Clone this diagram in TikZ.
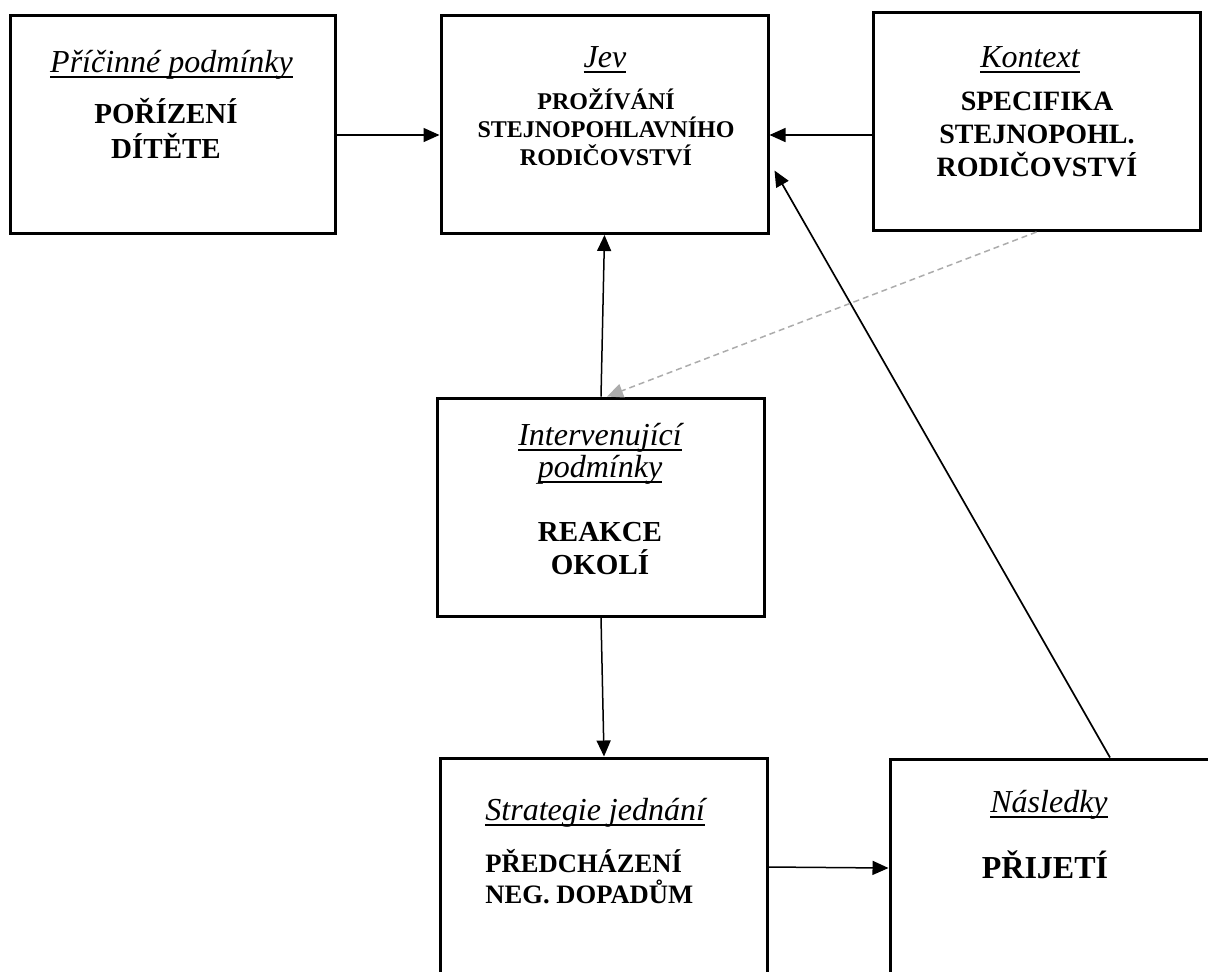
\documentclass[tikz,border=0pt]{standalone}
\usepackage{fontspec}
\setmainfont{Liberation Serif}
\usetikzlibrary{arrows.meta}
\newsavebox\ttlbox
\newcommand{\ttl}[1]{\sbox\ttlbox{#1}\rlap{\rule[-2.8pt]{\wd\ttlbox}{0.8pt}}\usebox\ttlbox}

\begin{document}
\begin{tikzpicture}[x=0.5pt, y=-0.5pt, >={Triangle[length=8pt,width=7pt]},
  box node/.style={draw, line width=1.5pt, minimum width=163.5pt, minimum height=109pt, inner sep=0},
  title node/.style={anchor=base, inner sep=0, align=center, font=\fontsize{16}{16}\selectfont\itshape},
  text node/.style={anchor=base, inner sep=0, align=center, font=\bfseries},
  edge node/.style={->, line width=0.75pt}]
\useasboundingbox (0,0) rectangle (1208,971);
\clip (0,0) rectangle (1208,971);
% boxes
\node[box node, minimum width=162.5pt] (1) at (172.5,124) {};
\node[box node] (2) at (604.5,124.5) {};
\node[box node] (3) at (1036.5,121.5) {};
\node[box node] (4) at (601,507) {};
\node[box node] (5) at (604,867) {};
\node[box node] (6) at (1053.5,868) {};
% texts (base = last line)
\node[title node] (1a) at (171.5,72) {\ttl{Příčinné podmínky}};
\node[text node, font=\fontsize{14.5}{17.5}\selectfont\bfseries] (1b) at (166,158) {POŘÍZENÍ\\DÍTĚTE};
\node[title node] (2a) at (605,67) {\ttl{Jev}};
\node[text node, font=\fontsize{12}{14}\selectfont\bfseries] (2b) at (606,165) {PROŽÍVÁNÍ\\STEJNOPOHLAVNÍHO\\RODIČOVSTVÍ};
\node[title node] (3a) at (1030,67) {\ttl{Kontext}};
\node[text node, font=\fontsize{14}{16.5}\selectfont\bfseries] (3b) at (1037,176) {SPECIFIKA\\STEJNOPOHL.\\RODIČOVSTVÍ};
\node[title node] (4a) at (600,477) {\ttl{Intervenující}\\\ttl{podmínky}};
\node[text node, font=\fontsize{14.5}{16.5}\selectfont\bfseries] (4b) at (600,574) {REAKCE\\OKOLÍ};
\node[title node, anchor=base west, align=left] (5a) at (485,820) {\ttl{Strategie jednání}};
\node[text node, anchor=base west, align=left, font=\fontsize{13.3}{15.5}\selectfont\bfseries] (5b) at (485,903) {PŘEDCHÁZENÍ\\NEG. DOPADŮM};
\node[title node] (6a) at (1049,812) {\ttl{Následky}};
\node[text node, font=\fontsize{16}{18}\selectfont\bfseries] (6b) at (1045,878) {PŘIJETÍ};
% connectors
\draw[edge node] ([yshift=-5.5pt]1.east) -- ([yshift=-5.25pt]2.west);
\draw[edge node] ([yshift=-6.75pt]3.west) -- ([yshift=-5.25pt]2.east);
\draw[edge node] (4.north) -- (2.south);
\draw[edge node] (4.south) -- (5.north);
\draw[edge node] (5.east) -- (6.west);
\draw[edge node, line width=0.85pt] ([xshift=28.25pt]6.north) -- ([xshift=2.5pt,yshift=-23pt]2.east);
\draw[edge node, gray!65, dash pattern=on 3pt off 2pt] (3.south) -- ([xshift=3pt]4.north);
\end{tikzpicture}
\end{document}
